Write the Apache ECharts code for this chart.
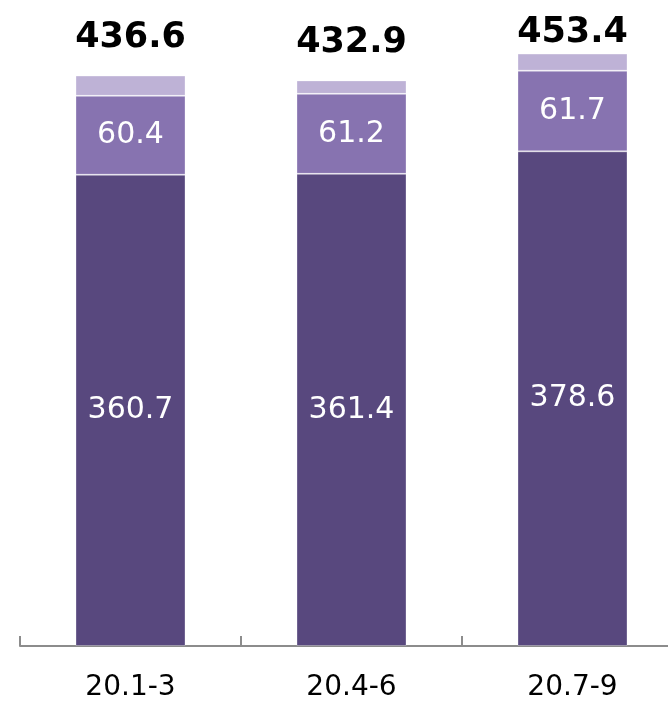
<!DOCTYPE html>
<html>
<head>
<meta charset="utf-8">
<script src="https://cdn.jsdelivr.net/npm/echarts@6/dist/echarts.min.js"></script>
<style>
  html, body { margin: 0; padding: 0; background: #ffffff; }
  #chart { width: 668px; height: 701px; }
</style>
</head>
<body>
<div id="chart"></div>
<script>
// Quarterly periods
const categories = ['20.1-3', '20.4-6', '20.7-9'];
// Lower segment
const baseValues = [360.7, 361.4, 378.6];
// Middle segment
const midValues = [60.4, 61.2, 61.7];
// Stated totals for each bar
const totals = [436.6, 432.9, 453.4];
// Upper segment is what remains of each total
const topValues = totals.map((t, i) => +(t - baseValues[i] - midValues[i]).toFixed(1));

const FONT = '"DejaVu Sans", Verdana, sans-serif';
const segBorder = { borderColor: 'rgba(255,255,255,0.3)', borderWidth: 1 };

const Y_MAX = 460, GRID_TOP = 45, GRID_H = 601;
// Total labels sit a fixed gap above each bar; the tallest bar's label is tucked closer
const TOTAL_GAP = 20, TIGHT_GAP = 3;
const topData = topValues.map((v, i) => {
  const barTopPx = GRID_TOP + GRID_H * (1 - totals[i] / Y_MAX);
  return { value: v, label: { distance: barTopPx < 60 ? TIGHT_GAP : TOTAL_GAP } };
});

const chart = echarts.init(document.getElementById('chart'), null, { renderer: 'canvas' });
chart.setOption({
  animation: false,
  grid: { left: 20, top: GRID_TOP, width: 663, height: GRID_H, outerBoundsMode: 'none', containLabel: false },
  xAxis: {
    type: 'category',
    data: categories,
    axisLine: { show: true, lineStyle: { color: '#8c8c8c', width: 2 } },
    axisTick: { show: true, inside: true, length: 10, lineStyle: { color: '#8c8c8c', width: 2 } },
    axisLabel: { color: '#000000', fontSize: 28, fontFamily: FONT, margin: 28 }
  },
  yAxis: { type: 'value', min: 0, max: Y_MAX, show: false, splitLine: { show: false } },
  series: [
    {
      type: 'bar', stack: 'total', barWidth: 110, data: baseValues,
      itemStyle: Object.assign({ color: '#58487E' }, segBorder),
      label: { show: true, position: 'inside', color: '#ffffff', fontSize: 30, fontFamily: FONT }
    },
    {
      type: 'bar', stack: 'total', barWidth: 110, data: midValues,
      itemStyle: Object.assign({ color: '#8773B0' }, segBorder),
      label: { show: true, position: 'inside', color: '#ffffff', fontSize: 30, fontFamily: FONT }
    },
    {
      type: 'bar', stack: 'total', barWidth: 110, data: topData,
      itemStyle: Object.assign({ color: '#BEB2D6' }, segBorder),
      label: {
        show: true, position: 'top', distance: TOTAL_GAP,
        formatter: (p) => totals[p.dataIndex].toFixed(1),
        color: '#000000', fontSize: 35, fontWeight: 'bold', fontFamily: FONT
      }
    }
  ]
});
</script>
</body>
</html>
